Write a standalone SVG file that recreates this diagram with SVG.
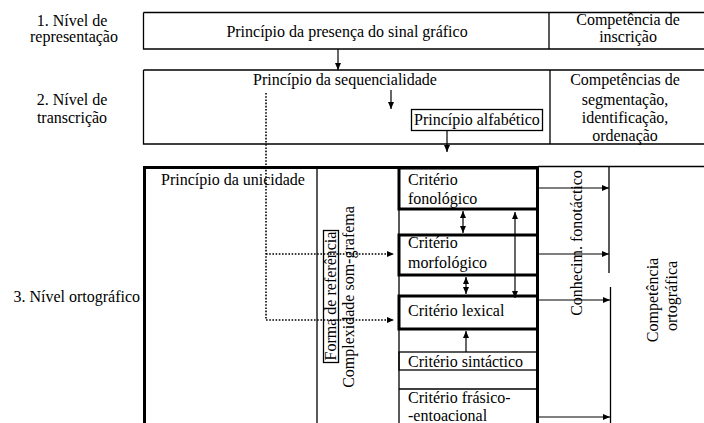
<svg xmlns="http://www.w3.org/2000/svg" width="704" height="423" viewBox="0 0 704 423">
<style>
text{font-family:"Liberation Serif","Times New Roman",serif;font-size:16px;fill:#000}
.m{text-anchor:middle}
.e{text-anchor:end}
.thin{fill:none;stroke:#000;stroke-width:1.3}
.thick{fill:none;stroke:#000;stroke-width:3}
.dot{fill:none;stroke:#000;stroke-width:1.6;stroke-dasharray:1.6 1.6}
.arr{fill:none;stroke:#000;stroke-width:1.2}
</style>
<defs>
<marker id="ah" viewBox="0 0 7 6" refX="7" refY="3" markerWidth="7" markerHeight="6" markerUnits="userSpaceOnUse" orient="auto-start-reverse">
<path d="M0,0 L7,3 L0,6 z" fill="#000"/>
</marker>
</defs>
<rect width="704" height="423" fill="#fff"/>

<g id="labels">
<text class="m" x="72" y="26">1. Nível de</text>
<text class="m" x="74" y="42">representação</text>
<text class="m" x="72" y="105">2. Nível de</text>
<text class="m" x="72" y="123">transcrição</text>
<text class="e" x="140" y="302">3. Nível ortográfico</text>
</g>

<g id="level1">
<path class="thin" d="M143.5,12.5 H704 M143.5,12.5 V49 H704 M549,12.5 V49"/>
<text class="m" x="347" y="37">Princípio da presença do sinal gráfico</text>
<text class="m" x="628" y="25">Competência de</text>
<text class="m" x="628" y="42">inscrição</text>
</g>

<g id="level2">
<path class="thin" d="M143.5,70 H704 M143.5,70 V144 H704 M550,70 V144"/>
<text class="m" x="345" y="85">Princípio da sequencialidade</text>
<text class="m" x="625" y="85">Competências de</text>
<text class="m" x="625" y="105">segmentação,</text>
<text class="m" x="625" y="123">identificação,</text>
<text class="m" x="625" y="141">ordenação</text>
</g>

<g id="alfabetico">
<rect class="thin" x="411.5" y="109.5" width="131" height="21"/>
<text x="414" y="125">Princípio alfabético</text>
</g>

<g id="level3">
<path class="thick" d="M144.5,423 V167.5 H538"/>
<path class="thin" d="M538,166.5 H704 M317,167 V423"/>
<text x="161" y="185">Princípio da unicidade</text>
</g>

<g id="forma">
<rect class="thin" x="323.5" y="230.5" width="15" height="132"/>
<text class="m" transform="translate(331,296) rotate(-90)" dy="5">Forma de referência</text>
</g>

<g id="complexidade">
<text class="m" transform="translate(349,297) rotate(-90)" dy="5">Complexidade som-grafema</text>
</g>

<g id="criterios">
<path class="thin" d="M399,167 V423"/>
<path class="thick" d="M537.5,167 V423"/>
</g>

<g id="fonologico">
<rect class="thick" x="399" y="168" width="138.5" height="41"/>
<text x="408" y="185">Critério</text>
<text x="408" y="204">fonológico</text>
</g>

<g id="morfologico">
<rect class="thick" x="399" y="235" width="138.5" height="40"/>
<text x="408" y="248">Critério</text>
<text x="408" y="268">morfológico</text>
</g>

<g id="lexical">
<rect class="thick" x="399" y="296" width="138.5" height="33"/>
<text x="408" y="316">Critério lexical</text>
</g>

<g id="sintactico">
<rect class="thin" x="399" y="352" width="138.5" height="18"/>
<text x="408" y="367">Critério sintáctico</text>
</g>

<g id="frasico">
<path class="thin" d="M399,389 H537"/>
<text x="408" y="403">Critério frásico-</text>
<text x="408" y="421">-entoacional</text>
</g>

<g id="conhecim">
<path class="thin" d="M609,167 V273 M610.5,287 V423"/>
<text class="m" transform="translate(577,243) rotate(-90)" dy="5">Conhecim. fonotáctico</text>
</g>

<g id="competencia">
<text class="m" transform="translate(653,300) rotate(-90)" dy="5">Competência</text>
<text class="m" transform="translate(672,296) rotate(-90)" dy="5">ortográfica</text>
</g>

<g id="connectors">
<line class="arr" x1="338" y1="49" x2="338" y2="70" marker-end="url(#ah)"/>
<line class="arr" x1="391" y1="90" x2="391" y2="109" marker-end="url(#ah)"/>
<line class="arr" x1="447" y1="131" x2="447" y2="152" marker-end="url(#ah)"/>
<path class="dot" d="M266,93 V320"/>
<line class="dot" x1="266" y1="254" x2="394" y2="254" marker-end="url(#ah)"/>
<line class="dot" x1="266" y1="320" x2="394" y2="320" marker-end="url(#ah)"/>
<line class="arr" x1="463" y1="211" x2="463" y2="233" marker-start="url(#ah)" marker-end="url(#ah)"/>
<line class="arr" x1="466" y1="277" x2="466" y2="294" marker-start="url(#ah)" marker-end="url(#ah)"/>
<line class="arr" x1="515" y1="298" x2="515" y2="212" marker-start="url(#ah)" marker-end="url(#ah)"/>
<line class="arr" x1="466" y1="352" x2="466" y2="331" marker-end="url(#ah)"/>
<line class="arr" x1="539" y1="188" x2="609" y2="188" marker-end="url(#ah)"/>
<line class="arr" x1="539" y1="254" x2="609" y2="254" marker-end="url(#ah)"/>
<line class="arr" x1="539" y1="300" x2="610" y2="300" marker-end="url(#ah)"/>
<line class="arr" x1="539" y1="417" x2="610" y2="417" marker-end="url(#ah)"/>
</g>
</svg>
